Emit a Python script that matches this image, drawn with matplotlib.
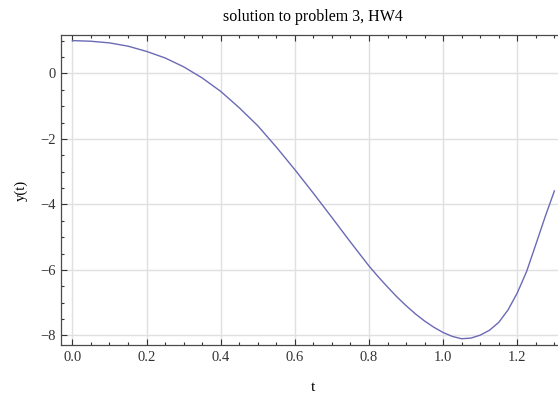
import numpy as np
import matplotlib.pyplot as plt
from matplotlib.ticker import MultipleLocator

# values
t = [0.0, 0.05, 0.1, 0.15, 0.2, 0.25, 0.3, 0.35, 0.4, 0.45, 0.5, 0.55, 0.6,
     0.65, 0.7, 0.75, 0.8, 0.825, 0.85, 0.875, 0.9, 0.925, 0.95, 0.975, 1.0,
     1.025, 1.05, 1.075, 1.1, 1.125, 1.15, 1.175, 1.2, 1.225, 1.25, 1.275, 1.3]
y = [1.0, 0.98, 0.93, 0.83, 0.67, 0.47, 0.20, -0.14, -0.55, -1.05, -1.60, -2.25,
     -2.94, -3.66, -4.40, -5.15, -5.88, -6.21, -6.52, -6.82, -7.09, -7.34, -7.56,
     -7.75, -7.91, -8.03, -8.10, -8.08, -7.99, -7.84, -7.60, -7.22, -6.70, -6.05,
     -5.22, -4.38, -3.59]

plt.rcParams["font.family"] = ["Liberation Serif", "DejaVu Serif"]

W, H = 558, 393
fig = plt.figure(figsize=(W / 100, H / 100), dpi=100)
left, right, top, bottom = 61.3, 565.5, 34.7, 345.3
ax = fig.add_axes([left / W, 1 - bottom / H, (right - left) / W, (bottom - top) / H])

ax.plot(t, y, color="#6a6ab6", lw=1.0)

ax.set_xlim(-0.03, 1.33)
ax.set_ylim(-8.3, 1.18)
ax.xaxis.set_major_locator(MultipleLocator(0.2))
ax.xaxis.set_minor_locator(MultipleLocator(0.05))
ax.yaxis.set_major_locator(MultipleLocator(2))
ax.yaxis.set_minor_locator(MultipleLocator(0.5))
ax.xaxis.set_major_formatter(plt.FuncFormatter(lambda v, p: "%.1f" % v))

ax.grid(True, which="major", color="#e0e0e0", lw=1.0)
ax.set_axisbelow(True)

for s in ["left", "bottom", "top", "right"]:
    ax.spines[s].set_color("#4a4a4a")
    ax.spines[s].set_linewidth(0.9)

ax.tick_params(which="both", direction="in", top=True, right=True, colors="#333333",
               labelsize=10.5)
ax.tick_params(which="major", length=4, width=0.8)
ax.tick_params(which="minor", length=2.4, width=0.8)
ax.tick_params(axis="x", pad=4)
ax.tick_params(axis="y", pad=4)

ax.set_title("solution to problem 3, HW4", fontsize=11.5, pad=10)
ax.set_xlabel("t", fontsize=11, labelpad=12)
ax.set_ylabel("y(t)", fontsize=10.5, labelpad=9)

fig.savefig("out.png", dpi=100)
